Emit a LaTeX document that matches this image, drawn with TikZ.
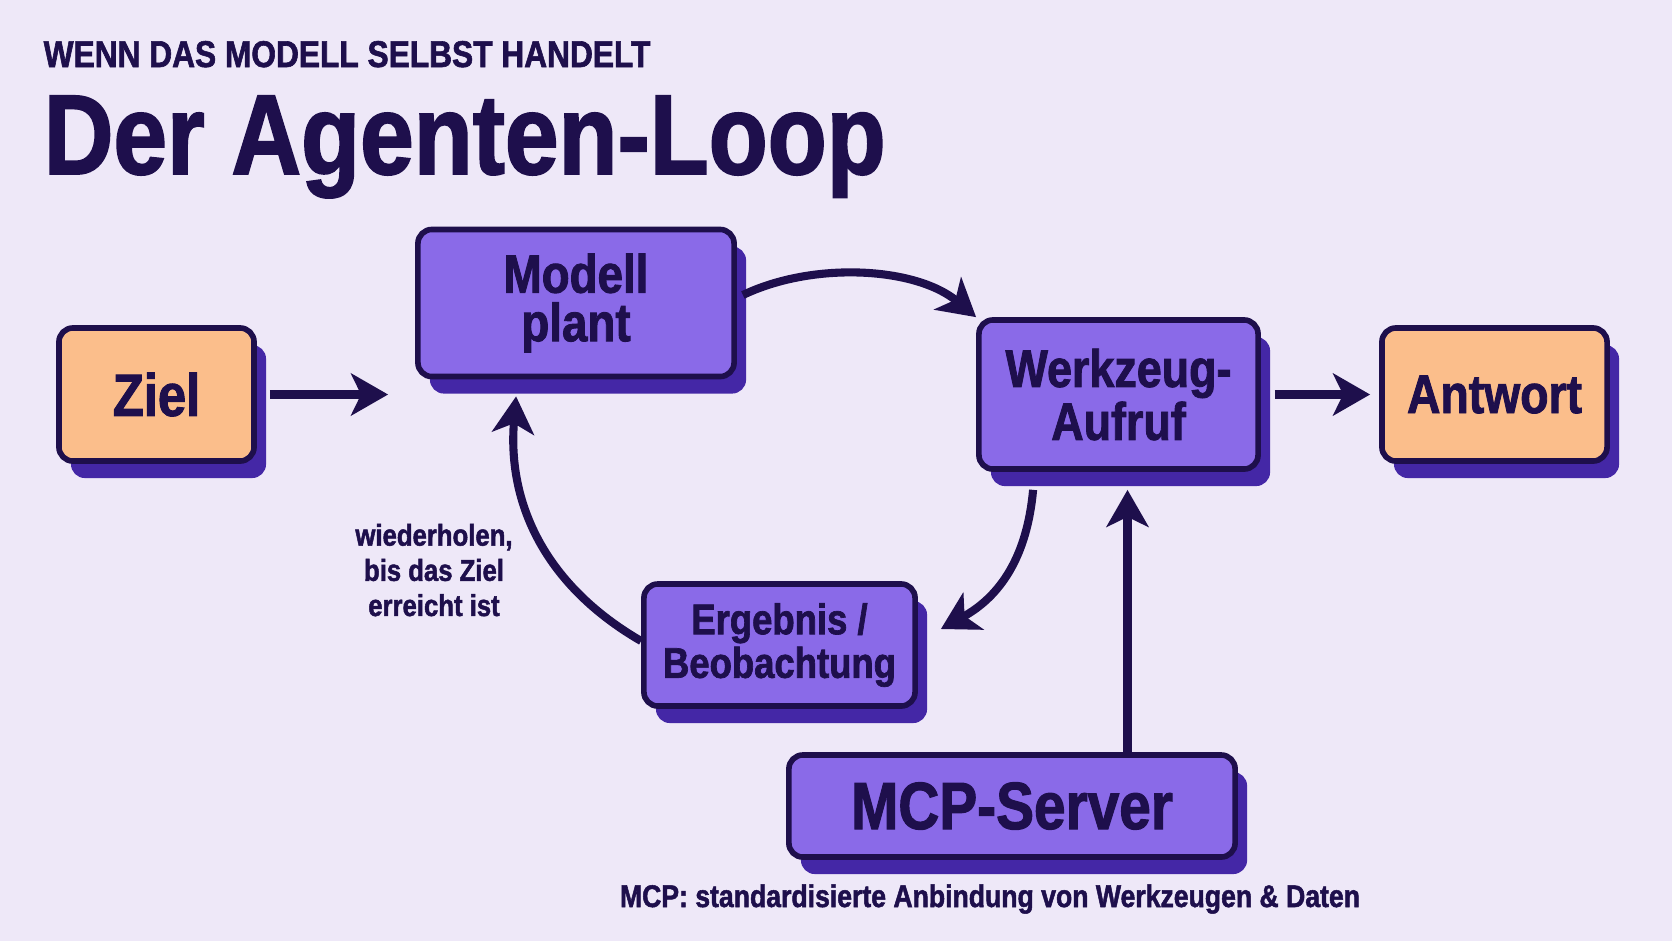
\documentclass[tikz,border=0pt]{standalone}
\usepackage{fontspec}
\newfontfamily\cf{Liberation Sans}[FakeStretch=0.85, BoldFeatures={FakeBold=1.6}]
\usetikzlibrary{arrows.meta,shadows,calc}
\definecolor{bgc}{HTML}{EEE8F8}
\definecolor{ink}{HTML}{1E0F4C}
\definecolor{violet}{HTML}{8A6AE8}
\definecolor{shade}{HTML}{4427A6}
\definecolor{peach}{HTML}{FBBE8B}
\begin{document}
\begin{tikzpicture}[x=0.01cm,y=-0.01cm,
 box/.style={draw=ink, line width=1.6pt, rounded corners=0.14cm, align=center, text=ink, inner sep=0pt,
   drop shadow={shadow xshift=0.12cm, shadow yshift=-0.17cm, fill=shade, opacity=1}},
 pbox/.style={box, fill=violet},
 obox/.style={box, fill=peach},
 arr/.style={draw=ink, line width=2.3pt, -{Stealth[length=0.37cm,width=0.42cm,inset=0.1cm]}},
 lbl/.style={text=ink, inner sep=0pt}
]
\fill[bgc] (0,0) rectangle (1672,941);
\useasboundingbox (0,0) rectangle (1672,941);

\node[lbl, anchor=base west, font=\cf\bfseries\fontsize{10.6}{12}\selectfont] (kicker) at (43,67) {WENN DAS MODELL SELBST HANDELT};
\node[lbl, anchor=base west, font=\cf\bfseries\fontsize{32.3}{36}\selectfont] (title) at (43,174) {Der Agenten-Loop};

\node[obox, minimum width=1.95cm, minimum height=1.33cm, font=\cf\bfseries\fontsize{17}{19}\selectfont] (ziel) at (156.5,394.5) {Ziel};
\node[pbox, minimum width=3.16cm, minimum height=1.47cm, font=\cf\bfseries\fontsize{15.3}{13.8}\selectfont] (modell) at (576,303) {Modell\\plant};
\node[pbox, minimum width=2.79cm, minimum height=1.49cm, font=\cf\bfseries\fontsize{15}{13.8}\selectfont] (werk) at (1118.5,394.5) {Werkzeug-\\Aufruf};
\node[obox, minimum width=2.25cm, minimum height=1.33cm, font=\cf\bfseries\fontsize{15.5}{17}\selectfont] (antwort) at (1494.5,394.5) {Antwort};
\node[pbox, minimum width=2.71cm, minimum height=1.22cm, font=\cf\bfseries\fontsize{12.2}{12.4}\selectfont] (erg) at (779.5,645) {Ergebnis /\\Beobachtung};
\node[pbox, minimum width=4.46cm, minimum height=1.02cm, font=\cf\bfseries\fontsize{19}{21}\selectfont] (mcp) at (1012,806) {MCP-Server};

\node[lbl, anchor=base, font=\cf\bfseries\fontsize{8.9}{11}\selectfont] (caption) at (990,907) {MCP: standardisierte Anbindung von Werkzeugen \& Daten};
\node[lbl, align=center, font=\cf\bfseries\fontsize{8.6}{10}\selectfont] (loop) at (434,570) {wiederholen,\\bis das Ziel\\erreicht ist};

\draw[arr, shorten <=0.13cm, shorten >=0.27cm] (ziel.east) -- (ziel.east -| modell.west);
\draw[arr] ([shift={(6,-8)}]modell.east) .. controls +(71,-34) and +(-60,-50) .. (werk.north west);
\draw[arr, shorten <=0.14cm, shorten >=0.09cm] (werk.east) -- (werk.east -| antwort.west);
\draw[arr] ([shift={(57,18)}]werk.south west) .. controls +(-6,66) and +(60,-33) .. ([shift={(23,-16)}]erg.east);
\draw[arr] ([shift={(0,-4)}]erg.west) .. controls +(-95,-55) and +(-9,108) .. ([shift={(101,17)}]modell.south west);
\draw[arr] ($(werk.south |- mcp.north)+(9,0)$) -- ($(werk.south)+(9,18)$);
\end{tikzpicture}
\end{document}
